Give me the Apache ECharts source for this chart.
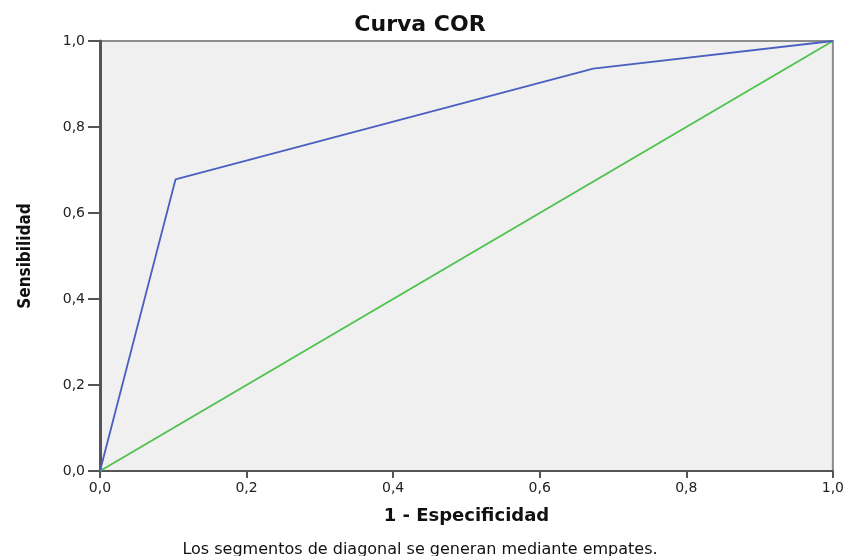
<!DOCTYPE html>
<html>
<head>
<meta charset="utf-8">
<script src="https://cdn.jsdelivr.net/npm/echarts@6/dist/echarts.min.js"></script>
<style>html,body{margin:0;padding:0;background:#fff;}#c{width:847px;height:556px;}</style>
</head>
<body>
<div id="c"></div>
<script>
const rocX = [0, 0.103, 0.673, 1];
const rocY = [0, 0.678, 0.936, 1];
const diagX = [0, 1];
const diagY = [0, 1];
const tickValues = [0, 0.2, 0.4, 0.6, 0.8, 1.0];
const titleText = 'Curva COR';
const xName = '1 - Especificidad';
const yName = 'Sensibilidad';
const footnote = 'Los segmentos de diagonal se generan mediante empates.';

const fmt = v => v.toFixed(1).replace('.', ',');
const chart = echarts.init(document.getElementById('c'), null, {renderer: 'canvas'});
chart.setOption({
  animation: false,
  backgroundColor: '#ffffff',
  title: [
    {text: titleText, left: 415, top: 9, textAlign: 'center',
     textStyle: {fontFamily: 'DejaVu Sans', fontWeight: 'bold', fontSize: 22, color: '#111'}},
    {text: footnote, left: 415, top: 537, textAlign: 'center',
     textStyle: {fontFamily: 'DejaVu Sans', fontWeight: 'normal', fontSize: 16, color: '#111'}}
  ],
  grid: {left: 100, right: 14, top: 41, bottom: 85, show: true,
         backgroundColor: '#f0f0f0', borderColor: '#8c8c8c', borderWidth: 2},
  xAxis: {
    type: 'value', min: 0, max: 1, interval: 0.2,
    name: xName, nameLocation: 'middle', nameGap: 36,
    nameTextStyle: {fontFamily: 'DejaVu Sans', fontWeight: 'bold', fontSize: 18, color: '#111'},
    axisLine: {show: true, onZero: false, lineStyle: {color: '#555', width: 2}},
    axisTick: {show: true, length: 7, lineStyle: {color: '#555', width: 2}},
    axisLabel: {formatter: fmt, margin: 10, fontFamily: 'DejaVu Sans', fontSize: 14, color: '#222'},
    splitLine: {show: false}
  },
  yAxis: {
    type: 'value', min: 0, max: 1, interval: 0.2,
    name: yName, nameLocation: 'middle', nameGap: 66, nameRotate: 90,
    nameTextStyle: {fontFamily: 'DejaVu Sans Condensed', fontWeight: 'bold', fontSize: 17, color: '#111'},
    axisLine: {show: true, onZero: false, lineStyle: {color: '#555', width: 3}},
    axisTick: {show: true, length: 12, lineStyle: {color: '#555', width: 2}},
    axisLabel: {formatter: fmt, margin: 15, fontFamily: 'DejaVu Sans', fontSize: 14, color: '#222'},
    splitLine: {show: false}
  },
  series: [
    {type: 'line', data: diagX.map((x, i) => [x, diagY[i]]), showSymbol: false,
     lineStyle: {color: '#4cc24c', width: 1.8}, z: 2},
    {type: 'line', data: rocX.map((x, i) => [x, rocY[i]]), showSymbol: false,
     lineStyle: {color: '#4a5fbf', width: 1.8}, z: 3}
  ]
});
</script>
</body>
</html>
